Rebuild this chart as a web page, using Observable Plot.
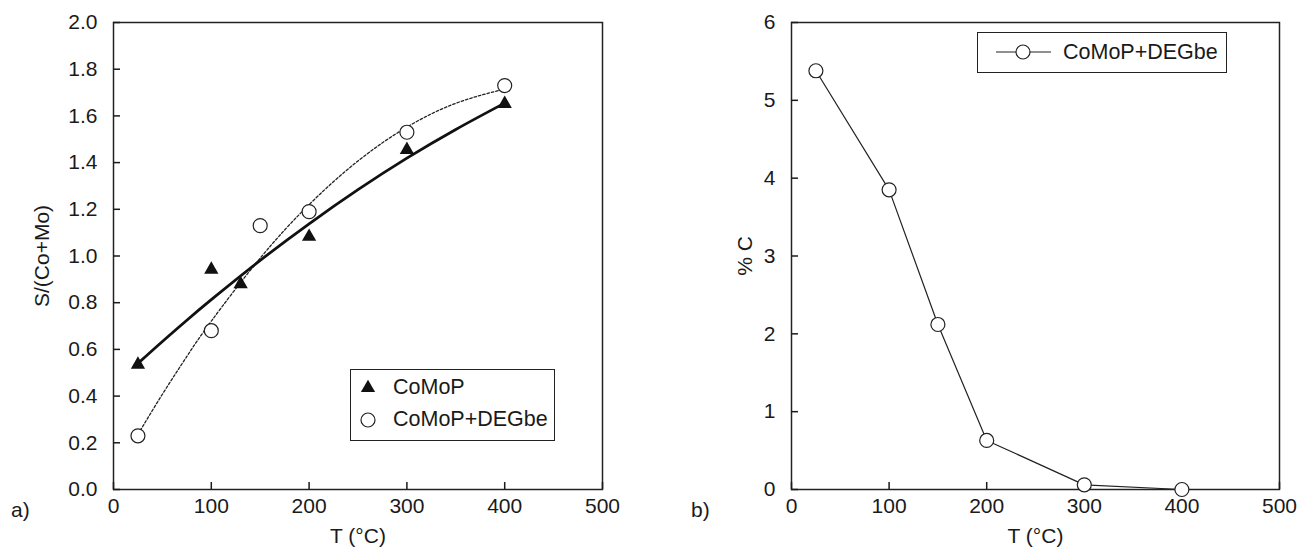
<!DOCTYPE html>
<html>
<head>
<meta charset="utf-8">
<script src="https://cdn.jsdelivr.net/npm/d3@7"></script>
<script src="https://cdn.jsdelivr.net/npm/@observablehq/plot@0.6"></script>
<style>
  html, body { margin: 0; padding: 0; background: #fff; }
  #wrap { position: relative; width: 1299px; height: 547px; font-family: Arial, "Liberation Sans", Helvetica, sans-serif; color: #1a1a1a; }
  .panel { position: absolute; top: 0; }
  .tag { position: absolute; font-size: 21px; line-height: 21px; }
  .legend { position: absolute; border: 1.5px solid #222; box-sizing: border-box; background: #fff; }
  .legend svg { position: absolute; left: 0; top: 0; overflow: visible; }
  .legend .lt { position: absolute; font-size: 21.5px; line-height: 22px; white-space: nowrap; }
</style>
</head>
<body>
<div id="wrap">
  <div id="pa" class="panel" style="left:0"></div>
  <div id="pb" class="panel" style="left:650px"></div>
  <div class="tag" style="left:11px; top:499px">a)</div>
  <div class="tag" style="left:691px; top:499px">b)</div>
  <div class="legend" id="legA" style="left:350px; top:369px; width:205px; height:72px;"></div>
  <div class="legend" id="legB" style="left:977px; top:32px; width:250px; height:41px;"></div>
</div>
<script>
// ---- Data ----
const xTicks = [0, 100, 200, 300, 400, 500];
const yTicksA = [0, 0.2, 0.4, 0.6, 0.8, 1.0, 1.2, 1.4, 1.6, 1.8, 2.0];
const yTicksB = [0, 1, 2, 3, 4, 5, 6];

// panel a) measured points
const comopT = [25, 100, 130, 200, 300, 400];
const comopS = [0.535, 0.942, 0.88, 1.083, 1.455, 1.652];
const degbeT = [25, 100, 150, 200, 300, 400];
const degbeS = [0.23, 0.68, 1.13, 1.19, 1.53, 1.73];

// panel a) fitted trend curves (read off the picture)
const fitT = [25, 50, 75, 100, 150, 200, 250, 300, 350, 400];
const fitComop = [0.54, 0.634, 0.725, 0.813, 0.981, 1.138, 1.284, 1.419, 1.542, 1.655];
const fitDegbe = [0.236, 0.408, 0.570, 0.721, 0.991, 1.22, 1.407, 1.552, 1.654, 1.715];

// panel b) carbon content
const carbT = [25, 100, 150, 200, 300, 400];
const carbC = [5.38, 3.85, 2.12, 0.63, 0.06, 0.0];

const seriesA = "CoMoP";
const seriesB = "CoMoP+DEGbe";

// ---- Tables ----
const ptsComop = comopT.map((t, i) => ({t, v: comopS[i]}));
const ptsDegbe = degbeT.map((t, i) => ({t, v: degbeS[i]}));
const fitC = fitT.map((t, i) => ({t, v: fitComop[i]}));
const fitD = fitT.map((t, i) => ({t, v: fitDegbe[i]}));
const ptsCarb = carbT.map((t, i) => ({t, v: carbC[i]}));

const FS = 21;
const baseStyle = {
  fontFamily: 'Arial, "Liberation Sans", Helvetica, sans-serif',
  fontSize: FS + "px",
  color: "#1a1a1a",
  background: "transparent",
  overflow: "visible"
};

const plotA = Plot.plot({
  width: 650, height: 547,
  marginLeft: 113, marginRight: 48, marginTop: 22, marginBottom: 58,
  style: baseStyle,
  x: {domain: [0, 500]},
  y: {domain: [0, 2]},
  marks: [
    Plot.frame({stroke: "#222", strokeWidth: 1.5}),
    Plot.axisX({ticks: xTicks, tickSize: -7, tickPadding: 16, strokeWidth: 1.5, fontSize: FS, tickFormat: d => String(d),
      label: "T (°C)", labelAnchor: "center", labelArrow: "none", labelOffset: 53}),
    Plot.axisY({ticks: yTicksA, tickSize: -7, tickPadding: 23, strokeWidth: 1.5, fontSize: FS, tickFormat: d3.format(".1f"),
      label: "S/(Co+Mo)", labelAnchor: "center", labelOffset: 79, labelArrow: "none"}),
    Plot.line(fitD, {x: "t", y: "v", curve: "natural", stroke: "#222", strokeWidth: 1.3, strokeDasharray: "2.5,2"}),
    Plot.line(fitC, {x: "t", y: "v", curve: "natural", stroke: "#111", strokeWidth: 2.8}),
    Plot.dot(ptsDegbe, {x: "t", y: "v", r: 7, fill: "white", stroke: "#222", strokeWidth: 1.2}),
    Plot.dot(ptsComop, {x: "t", y: "v", symbol: "triangle", r: 5.3, fill: "#111", stroke: "none"})
  ]
});
document.getElementById("pa").appendChild(plotA);

const plotB = Plot.plot({
  width: 649, height: 547,
  marginLeft: 141, marginRight: 20, marginTop: 22, marginBottom: 58,
  style: baseStyle,
  x: {domain: [0, 500]},
  y: {domain: [0, 6]},
  marks: [
    Plot.frame({stroke: "#222", strokeWidth: 1.5}),
    Plot.axisX({ticks: xTicks, tickSize: -7, tickPadding: 16, strokeWidth: 1.5, fontSize: FS, tickFormat: d => String(d),
      label: "T (°C)", labelAnchor: "center", labelArrow: "none", labelOffset: 53}),
    Plot.axisY({ticks: yTicksB, tickSize: -7, tickPadding: 23, strokeWidth: 1.5, fontSize: FS, tickFormat: d => String(d),
      label: "% C", labelAnchor: "center", labelOffset: 54, labelArrow: "none"}),
    Plot.line(ptsCarb, {x: "t", y: "v", stroke: "#222", strokeWidth: 1.2}),
    Plot.dot(ptsCarb, {x: "t", y: "v", r: 7, fill: "white", stroke: "#222", strokeWidth: 1.2, clip: false})
  ]
});
document.getElementById("pb").appendChild(plotB);

// ---- Legends ----
function legendA() {
  const el = document.getElementById("legA");
  const svg = d3.select(el).append("svg").attr("width", 205).attr("height", 72);
  svg.append("path").attr("d", d3.symbol(d3.symbolTriangle, Math.PI * 5.3 * 5.3)())
    .attr("transform", "translate(17,18)").attr("fill", "#111");
  svg.append("circle").attr("cx", 17).attr("cy", 50).attr("r", 7)
    .attr("fill", "white").attr("stroke", "#222").attr("stroke-width", 1.2);
  d3.select(el).append("div").attr("class", "lt").style("left", "42px").style("top", "6px").text(seriesA);
  d3.select(el).append("div").attr("class", "lt").style("left", "42px").style("top", "38px").text(seriesB);
}
function legendB() {
  const el = document.getElementById("legB");
  const svg = d3.select(el).append("svg").attr("width", 250).attr("height", 41);
  svg.append("line").attr("x1", 18).attr("x2", 73).attr("y1", 19).attr("y2", 19)
    .attr("stroke", "#222").attr("stroke-width", 1.2);
  svg.append("circle").attr("cx", 45).attr("cy", 19).attr("r", 7)
    .attr("fill", "white").attr("stroke", "#222").attr("stroke-width", 1.2);
  d3.select(el).append("div").attr("class", "lt").style("left", "85px").style("top", "8px").text(seriesB);
}
legendA();
legendB();
</script>
</body>
</html>
